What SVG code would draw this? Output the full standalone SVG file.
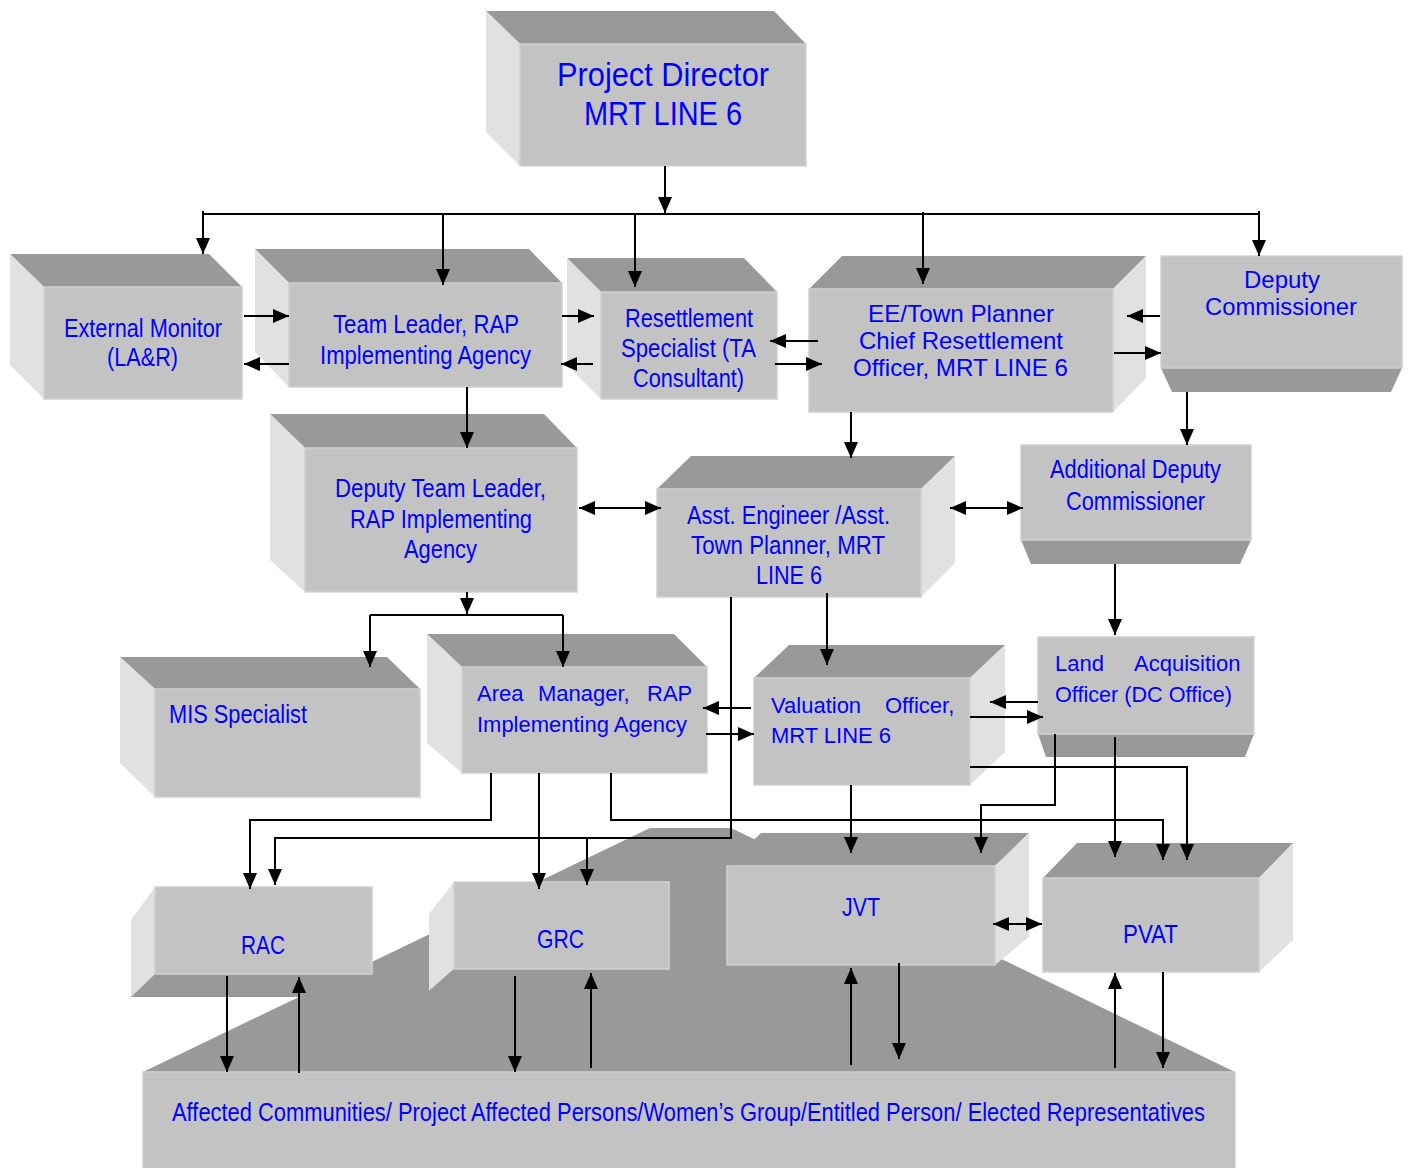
<svg xmlns="http://www.w3.org/2000/svg" width="1410" height="1168" viewBox="0 0 1410 1168">
<style>
.front{fill:#C3C3C3;stroke:#D0D0D0;stroke-width:1.5}
.top{fill:#999999}
.side{fill:#E1E1E1}
.t{font-family:'Liberation Sans Narrow','Arial Narrow','Liberation Sans',Arial,sans-serif;font-size:26px;fill:#0000FF}
.r{font-family:'Liberation Sans',Arial,sans-serif;fill:#0000FF}
.c{stroke:#000;stroke-width:2;fill:none}
.a{marker-end:url(#ah)}
.d{marker-start:url(#ah);marker-end:url(#ah)}
</style>
<defs>
<marker id="ah" markerUnits="userSpaceOnUse" markerWidth="16" markerHeight="14" refX="16" refY="7" orient="auto-start-reverse" viewBox="0 0 16 14"><path d="M0,0 L16,7 L0,14 z" fill="#000"/></marker>
</defs>
<rect width="1410" height="1168" fill="#FFFFFF"/>

<g id="affected">
<polygon class="top" points="143,1072 650,828 731,828 1235,1072"/>
<rect class="front" x="143" y="1072" width="1092" height="100"/>
<text class="t" x="172" y="1121" textLength="1033" lengthAdjust="spacingAndGlyphs">Affected Communities/ Project Affected Persons/Women’s Group/Entitled Person/ Elected Representatives</text>
</g>

<g id="project-director">
<polygon class="top" points="486,11 774,11 806,44 520,44"/>
<polygon class="side" points="486,11 520,44 520,166 486,132"/>
<rect class="front" x="520" y="44" width="286" height="122"/>
<text class="t" style="font-size:34px" x="557" y="86" textLength="212" lengthAdjust="spacingAndGlyphs">Project Director</text>
<text class="t" style="font-size:34px" x="584" y="125" textLength="158" lengthAdjust="spacingAndGlyphs">MRT LINE 6</text>
</g>

<g id="external-monitor">
<polygon class="top" points="10,254 209,254 242,287 44,287"/>
<polygon class="side" points="10,254 44,287 44,399 10,365"/>
<rect class="front" x="44" y="287" width="198" height="112"/>
<text class="t" x="64" y="337" textLength="158" lengthAdjust="spacingAndGlyphs">External Monitor</text>
<text class="t" x="107" y="366" textLength="71" lengthAdjust="spacingAndGlyphs">(LA&amp;R)</text>
</g>

<g id="team-leader">
<polygon class="top" points="255,249 529,249 562,283 289,283"/>
<polygon class="side" points="255,249 289,283 289,387 255,352"/>
<rect class="front" x="289" y="283" width="273" height="104"/>
<text class="t" x="333" y="333" textLength="186" lengthAdjust="spacingAndGlyphs">Team Leader, RAP</text>
<text class="t" x="320" y="364" textLength="211" lengthAdjust="spacingAndGlyphs">Implementing Agency</text>
</g>

<g id="resettlement-specialist">
<polygon class="top" points="567,258 744,258 777,292 601,292"/>
<polygon class="side" points="567,258 601,292 601,399 567,365"/>
<rect class="front" x="601" y="292" width="176" height="107"/>
<text class="t" x="625" y="327" textLength="128" lengthAdjust="spacingAndGlyphs">Resettlement</text>
<text class="t" x="621" y="357" textLength="135" lengthAdjust="spacingAndGlyphs">Specialist (TA</text>
<text class="t" x="633" y="387" textLength="111" lengthAdjust="spacingAndGlyphs">Consultant)</text>
</g>

<g id="ee-town-planner">
<polygon class="top" points="842,256 1146,256 1113,289 809,289"/>
<polygon class="side" points="1113,289 1146,256 1146,378 1113,412"/>
<rect class="front" x="809" y="289" width="304" height="123"/>
<text class="r" style="font-size:24px" x="868" y="322" textLength="186" lengthAdjust="spacingAndGlyphs">EE/Town Planner</text>
<text class="r" style="font-size:24px" x="859" y="349" textLength="204" lengthAdjust="spacingAndGlyphs">Chief Resettlement</text>
<text class="r" style="font-size:24px" x="853" y="376" textLength="215" lengthAdjust="spacingAndGlyphs">Officer, MRT LINE 6</text>
</g>

<g id="deputy-commissioner">
<polygon class="top" points="1161,368 1402,368 1391,392 1172,392"/>
<rect class="front" x="1161" y="256" width="241" height="112"/>
<text class="r" style="font-size:24px" x="1244" y="288" textLength="76" lengthAdjust="spacingAndGlyphs">Deputy</text>
<text class="r" style="font-size:24px" x="1205" y="315" textLength="152" lengthAdjust="spacingAndGlyphs">Commissioner</text>
</g>

<g id="deputy-team-leader">
<polygon class="top" points="270,414 544,414 577,448 305,448"/>
<polygon class="side" points="270,414 305,448 305,592 270,560"/>
<rect class="front" x="305" y="448" width="272" height="144"/>
<text class="t" x="335" y="497" textLength="211" lengthAdjust="spacingAndGlyphs">Deputy Team Leader,</text>
<text class="t" x="350" y="528" textLength="182" lengthAdjust="spacingAndGlyphs">RAP Implementing</text>
<text class="t" x="404" y="558" textLength="73" lengthAdjust="spacingAndGlyphs">Agency</text>
</g>

<g id="asst-engineer">
<polygon class="top" points="691,456 955,456 921,489 657,489"/>
<polygon class="side" points="921,489 955,456 955,563 921,597"/>
<rect class="front" x="657" y="489" width="264" height="108"/>
<text class="t" x="687" y="524" textLength="203" lengthAdjust="spacingAndGlyphs">Asst. Engineer /Asst.</text>
<text class="t" x="691" y="554" textLength="194" lengthAdjust="spacingAndGlyphs">Town Planner, MRT</text>
<text class="t" x="756" y="584" textLength="66" lengthAdjust="spacingAndGlyphs">LINE 6</text>
</g>

<g id="additional-deputy-commissioner">
<polygon class="top" points="1021,540 1251,540 1240,564 1031,564"/>
<rect class="front" x="1021" y="445" width="230" height="95"/>
<text class="t" x="1050" y="478" textLength="171" lengthAdjust="spacingAndGlyphs">Additional Deputy</text>
<text class="t" x="1066" y="510" textLength="139" lengthAdjust="spacingAndGlyphs">Commissioner</text>
</g>

<g id="mis-specialist">
<polygon class="top" points="120,657 387,657 420,689 155,689"/>
<polygon class="side" points="120,657 155,689 155,797 120,763"/>
<rect class="front" x="155" y="689" width="265" height="108"/>
<text class="t" x="169" y="723" textLength="138" lengthAdjust="spacingAndGlyphs">MIS Specialist</text>
</g>

<g id="area-manager">
<polygon class="top" points="427,634 674,634 707,667 462,667"/>
<polygon class="side" points="427,634 462,667 462,773 427,743"/>
<rect class="front" x="462" y="667" width="245" height="106"/>
<text class="r" style="font-size:22px" y="701"><tspan x="477">Area</tspan> <tspan x="538">Manager,</tspan> <tspan x="647">RAP</tspan></text>
<text class="r" style="font-size:22px" x="477" y="732" textLength="210" lengthAdjust="spacingAndGlyphs">Implementing Agency</text>
</g>

<g id="valuation-officer">
<polygon class="top" points="789,645 1005,645 970,678 754,678"/>
<polygon class="side" points="970,678 1005,645 1005,752 970,785"/>
<rect class="front" x="754" y="678" width="216" height="107"/>
<text class="r" style="font-size:22px" y="713"><tspan x="771">Valuation</tspan> <tspan x="885">Officer,</tspan></text>
<text class="r" style="font-size:22px" x="771" y="743" textLength="120" lengthAdjust="spacingAndGlyphs">MRT LINE 6</text>
</g>

<g id="land-acquisition-officer">
<polygon class="top" points="1038,734 1254,734 1245,757 1046,757"/>
<rect class="front" x="1038" y="637" width="216" height="97"/>
<text class="r" style="font-size:22px" y="671"><tspan x="1055">Land</tspan> <tspan x="1134">Acquisition</tspan></text>
<text class="r" style="font-size:22px" x="1055" y="702" textLength="177" lengthAdjust="spacingAndGlyphs">Officer (DC Office)</text>
</g>

<g id="rac">
<polygon class="side" points="155,887 131,920 131,997 155,974"/>
<polygon class="top" points="155,974 372,974 348,997 131,997"/>
<rect class="front" x="155" y="887" width="217" height="87"/>
<text class="t" x="241" y="954" textLength="44" lengthAdjust="spacingAndGlyphs">RAC</text>
</g>

<g id="grc">
<polygon class="side" points="454,882 429,914 429,991 454,969"/>
<polygon class="top" points="454,969 669,969 644,991 429,991"/>
<rect class="front" x="454" y="882" width="215" height="87"/>
<text class="t" x="537" y="948" textLength="47" lengthAdjust="spacingAndGlyphs">GRC</text>
</g>

<g id="jvt">
<polygon class="top" points="761,833 1029,833 995,866 727,866"/>
<polygon class="side" points="995,866 1029,833 1029,937 995,965"/>
<rect class="front" x="727" y="866" width="268" height="99"/>
<text class="t" x="842" y="916" textLength="38" lengthAdjust="spacingAndGlyphs">JVT</text>
</g>

<g id="pvat">
<polygon class="top" points="1077,843 1293,843 1259,878 1043,878"/>
<polygon class="side" points="1259,878 1293,843 1293,940 1259,972"/>
<rect class="front" x="1043" y="878" width="216" height="94"/>
<text class="t" x="1123" y="943" textLength="55" lengthAdjust="spacingAndGlyphs">PVAT</text>
</g>

<g id="connectors">
<path class="c a" d="M665,166 V213"/>
<path class="c" d="M203,214 H1259"/>
<path class="c a" d="M203,211 V254"/>
<path class="c a" d="M443,214 V285"/>
<path class="c a" d="M635,214 V287"/>
<path class="c a" d="M923,212 V284"/>
<path class="c a" d="M1259,211 V256"/>
<path class="c a" d="M244,316 H289"/>
<path class="c a" d="M289,364 H244"/>
<path class="c a" d="M562,316 H594"/>
<path class="c a" d="M593,364 H561"/>
<path class="c a" d="M818,341 H770"/>
<path class="c a" d="M775,364 H822"/>
<path class="c a" d="M1160,316 H1127"/>
<path class="c a" d="M1114,353 H1161"/>
<path class="c a" d="M467,387 V448"/>
<path class="c a" d="M851,412 V458"/>
<path class="c a" d="M1187,392 V445"/>
<path class="c d" d="M950,508 H1023"/>
<path class="c d" d="M579,508 H661"/>
<path class="c a" d="M467,592 V614"/>
<path class="c" d="M370,615 H563"/>
<path class="c a" d="M370,615 V667"/>
<path class="c a" d="M563,615 V667"/>
<path class="c a" d="M827,593 V665"/>
<path class="c a" d="M731,597 V838 H275 V885"/>
<path class="c a" d="M587,838 V885"/>
<path class="c a" d="M491,773 V820 H250 V889"/>
<path class="c a" d="M539,773 V889"/>
<path class="c a" d="M611,773 V820 H1163 V860"/>
<path class="c a" d="M751,708 H703"/>
<path class="c a" d="M706,734 H754"/>
<path class="c a" d="M1115,564 V635"/>
<path class="c a" d="M1038,702 H990"/>
<path class="c a" d="M970,717 H1043"/>
<path class="c a" d="M851,785 V853"/>
<path class="c a" d="M970,767 H1187 V860"/>
<path class="c a" d="M1055,734 V805 H981 V853"/>
<path class="c a" d="M1115,737 V857"/>
<path class="c d" d="M993,924 H1042"/>
<path class="c a" d="M227,976 V1072"/>
<path class="c a" d="M299,1073 V977"/>
<path class="c a" d="M515,976 V1072"/>
<path class="c a" d="M591,1068 V973"/>
<path class="c a" d="M851,1065 V968"/>
<path class="c a" d="M899,963 V1059"/>
<path class="c a" d="M1115,1068 V973"/>
<path class="c a" d="M1163,972 V1068"/>
</g>
</svg>
